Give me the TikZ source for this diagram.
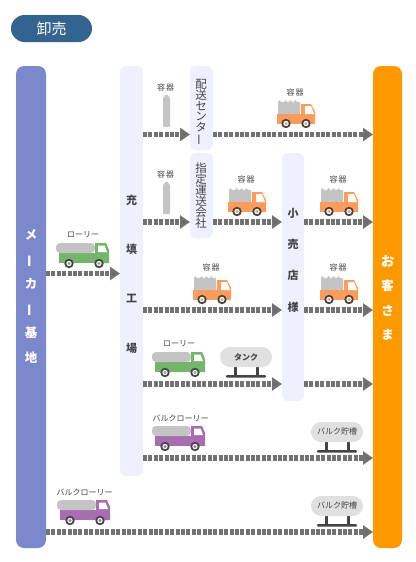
\documentclass[tikz,border=0pt]{standalone}
\usepackage{fontspec}
\setmainfont{Noto Sans CJK JP}
\usetikzlibrary{arrows.meta}
\definecolor{cmaker}{HTML}{7B88CB}
\definecolor{cpale}{HTML}{EEF0FE}
\definecolor{cuser}{HTML}{FF9900}
\definecolor{cpill}{HTML}{336490}
\definecolor{cflow}{HTML}{666666}
\definecolor{cgreen}{HTML}{75B56B}
\definecolor{cpurple}{HTML}{A86DB0}
\definecolor{corange}{HTML}{FF9C5B}
\definecolor{ccargo}{HTML}{C4C4C4}
\definecolor{ctank}{HTML}{E0E0E0}
\definecolor{cdark}{HTML}{444444}
\newcommand{\fsz}[1]{\fontsize{#1}{#1}\selectfont}
\newcommand{\vbar}{\rotatebox[origin=c]{90}{ー}}
\newcommand{\vstack}[2]{\fontsize{#1}{#2}\selectfont}
\tikzset{
  x=1pt,y=-1pt,
  rail/.style={anchor=north west,inner sep=0pt,outer sep=0pt,rounded corners=#1},
  bigtext/.style={text=white,font=\bfseries\vstack{12.5}{24.5},align=center,inner sep=0pt},
  paletext/.style={text=cdark,font=\vstack{11.5}{10.9},align=center,inner sep=0pt},
  smalllabel/.style={text=cdark,font=\fsz{8},inner sep=0pt},
  flow/.style={draw=cflow!92!white,line width=5.4pt,dash pattern=on 3.9pt off 1.5pt,
    -{Triangle[length=10pt,width=13pt,fill=cflow]}},
  wheel/.pic={
    \fill[cdark] (0,0) circle (4.7);
    \fill[white] (0,0) circle (2.7);
    \fill[#1] (0,0) circle (1.7);
  },
  lorry/.pic={
    \fill[#1] (3,10) rectangle (40,20);
    \fill[#1] (39,0) -- (50,0) -- (53,7) -- (53,20) -- (39,20) -- cycle;
    \fill[white] (42,2.5) -- (48.5,2.5) -- (51,9) -- (42,9) -- cycle;
    \fill[ccargo,rounded corners=4pt] (0,0) -- (39,0) -- (39,10) -- (0,10) -- cycle;
    \pic at (13,20.5) {wheel=#1};
    \pic at (43,20.5) {wheel=#1};
  },
  truck/.pic={
    \fill[ccargo] (0,14) -- (0,2) -- (1.5,0) -- (3,2) -- (6,2) -- (7.5,0) -- (9,2) -- (11,2) -- (12.5,0) -- (14,2) -- (16,2) -- (17.5,0) -- (19,2) -- (22,2) -- (22,14) -- cycle;
    \fill[corange] (-1,14) rectangle (23,24);
    \fill[corange] (23,4) -- (33,4) -- (37,12) -- (37,24) -- (23,24) -- cycle;
    \fill[white] (27,6) -- (33,6) -- (36,14) -- (27,14) -- cycle;
    \pic at (8,23.5) {wheel=corange};
    \pic at (28,23.5) {wheel=corange};
  },
  cylinder/.pic={
    \fill[ccargo,rounded corners=1pt] (0,33) -- (0,4) -- (3.5,0) -- (7,4) -- (7,33) -- cycle;
  },
  storage/.pic={
    \fill[cdark] (14,19) rectangle (17,28);
    \fill[cdark] (36,19) rectangle (39,28);
    \fill[cdark,rounded corners=1pt] (6,28) rectangle (46,30.5);
    \fill[ctank,rounded corners=10pt] (0,0) rectangle (52,20);
  },
}
\begin{document}
\begin{tikzpicture}
\useasboundingbox (0,0) rectangle (415,562);
\fill[white] (0,0) rectangle (415,562);
% title
\node[rail=13.5pt,fill=cpill,minimum width=81pt,minimum height=27pt,text=white,font=\fsz{15}] (title) at (11,15) {卸売};
% rails
\node[rail=8pt,fill=cmaker,minimum width=30pt,minimum height=482pt] (maker) at (16,66) {};
\node[rail=6pt,fill=cpale,minimum width=23pt,minimum height=410pt] (plant) at (120,66) {};
\node[rail=6pt,fill=cpale,minimum width=23pt,minimum height=84pt] (center) at (190,66) {};
\node[rail=6pt,fill=cpale,minimum width=23pt,minimum height=85pt] (carrier) at (190,153) {};
\node[rail=6pt,fill=cpale,minimum width=22pt,minimum height=248pt] (retail) at (282,153) {};
\node[rail=8pt,fill=cuser,minimum width=29pt,minimum height=482pt] (user) at (373,66) {};
% rail texts
\node[bigtext] (makertext) at (31,296.5) {メ\\\vbar\\カ\\\vbar\\基\\地};
\node[bigtext] (usertext) at (387.5,298) {\vstack{13.5}{28.7}お\\客\\さ\\ま};
\node[paletext,font=\bfseries\vstack{11}{49.3}] (planttext) at (131.5,274) {充\\填\\工\\場};
\node[paletext,font=\bfseries\vstack{11}{31.3}] (retailtext) at (293,260) {小\\売\\店\\様};
\node[paletext] (centertext) at (201,112.5) {配\\送\\セ\\ン\\タ\\\vbar};
\node[paletext] (carriertext) at (201,195.5) {指\\定\\運\\送\\会\\社};
% flows
\draw[flow] (maker.east |- 0,273.5) -- (plant.west |- 0,273.5);
\draw[flow] (plant.east |- 0,134.5) -- (center.west |- 0,134.5);
\draw[flow] (center.east |- 0,134.5) -- (user.west |- 0,134.5);
\draw[flow] (plant.east |- 0,222) -- (carrier.west |- 0,222);
\draw[flow] (carrier.east |- 0,222) -- (retail.west |- 0,222);
\draw[flow] (retail.east |- 0,222) -- (user.west |- 0,222);
\draw[flow] (plant.east |- 0,310) -- (retail.west |- 0,310);
\draw[flow] (retail.east |- 0,310) -- (user.west |- 0,310);
\draw[flow] (plant.east |- 0,384) -- (retail.west |- 0,384);
\draw[flow] (retail.east |- 0,384) -- (user.west |- 0,384);
\draw[flow] (plant.east |- 0,458) -- (user.west |- 0,458);
\draw[flow] (maker.east |- 0,532) -- (user.west |- 0,532);
% cylinders
\node[smalllabel] (cyl1) at (165.5,87) {容\hspace{1pt}器};
\pic at (163,94) {cylinder};
\node[smalllabel] (cyl2) at (165.5,174) {容\hspace{1pt}器};
\pic at (163,181) {cylinder};
% trucks
\pic at (278,100) {truck};
\node[smalllabel] (t1) at (295,92) {容\hspace{1pt}器};
\pic at (229,188) {truck};
\node[smalllabel] (t2) at (246,179) {容\hspace{1pt}器};
\pic at (321,188) {truck};
\node[smalllabel] (t3) at (338,179) {容\hspace{1pt}器};
\pic at (194,276) {truck};
\node[smalllabel] (t4) at (211,267) {容\hspace{1pt}器};
\pic at (321,276) {truck};
\node[smalllabel] (t5) at (338,267) {容\hspace{1pt}器};
% lorries
\pic at (56,243) {lorry=cgreen};
\node[smalllabel] (l1) at (83,235) {ローリー};
\pic at (152,352) {lorry=cgreen};
\node[smalllabel] (l2) at (179,344) {ローリー};
\pic at (152,426) {lorry=cpurple};
\node[smalllabel] (l3) at (180.5,418) {バルクローリー};
\pic at (57,500) {lorry=cpurple};
\node[smalllabel] (l4) at (84.5,492.5) {バルクローリー};
% tanks
\pic at (220,347) {storage};
\node[smalllabel,font=\bfseries\fsz{8}] (tank) at (246,357) {タンク};
\pic at (311,422) {storage};
\node[smalllabel] (b1) at (337,431.5) {バルク貯槽};
\pic at (311,496) {storage};
\node[smalllabel] (b2) at (337,505) {バルク貯槽};
\end{tikzpicture}
\end{document}
